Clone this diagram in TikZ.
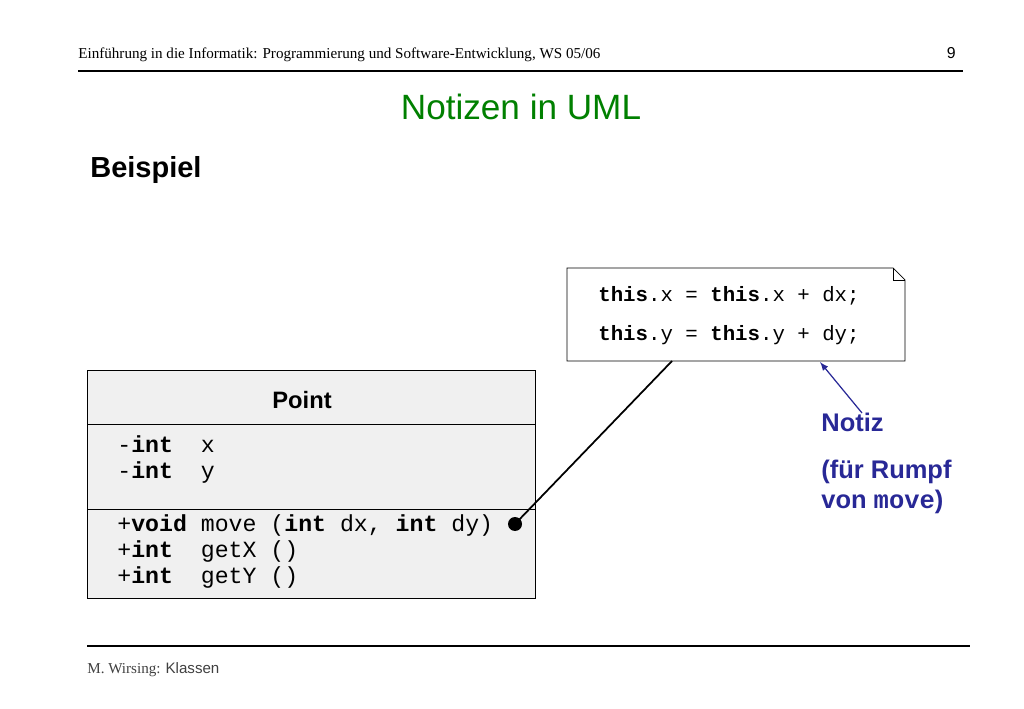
\documentclass[tikz,border=0pt]{standalone}
\usepackage{fontspec}
\setmainfont{Liberation Serif}
\setsansfont{Liberation Sans}
\setmonofont{Liberation Mono}
\usetikzlibrary{calc}
\definecolor{titlegreen}{RGB}{0,128,0}
\definecolor{noteblue}{RGB}{40,40,150}
\definecolor{classgray}{RGB}{240,240,240}
\tikzset{
  codeline/.style={anchor=base west,inner sep=0pt,font=\fontsize{11.8}{14}\ttfamily},
  memberline/.style={anchor=base west,inner sep=0pt,font=\fontsize{13.2}{15}\ttfamily},
  notetext/.style={anchor=base west,inner sep=0pt,text=noteblue,font=\fontsize{14.5}{17}\sffamily\bfseries},
}
\begin{document}
\begin{tikzpicture}[x=0.02cm,y=-0.02cm]
\useasboundingbox (0,0) rectangle (1024,709);
% header
\node[anchor=base west,inner sep=0pt,font=\fontsize{8.6}{10}\selectfont] (head) at (78,59)
  {Einführung in die Informatik: Programmierung und Software-Entwicklung, WS 05/06};
\node[anchor=base east,inner sep=0pt,font=\fontsize{9}{10}\sffamily] (page) at (956,59) {9};
\draw[line width=0.8pt] (78,71) -- (963,71);
\node[text=titlegreen,font=\fontsize{20}{23}\sffamily] (title) at (521,107) {Notizen in UML};
\node[anchor=base west,inner sep=0pt,font=\fontsize{16.5}{20}\sffamily\bfseries] (sub) at (90,178) {Beispiel};
% note
\draw[fill=white] (567,268) -- (893,268) -- (905,280) -- (905,361) -- (567,361) -- cycle;
\draw (893,268) -- (893,280) -- (905,280);
\coordinate (noteanchor) at (672,361);
\coordinate (notetip) at (820,362);
\node[codeline] (l1) at (598,302) {\textbf{this}.x = \textbf{this}.x + dx;};
\node[codeline] (l2) at (598,340) {\textbf{this}.y = \textbf{this}.y + dy;};
% class
\draw[fill=classgray] (87,370) rectangle (535,598);
\draw (87,424) -- (535,424);
\draw (87,509) -- (535,509);
\node[font=\fontsize{13.5}{16}\sffamily\bfseries] (cname) at (302,400) {Point};
\node[memberline] (a1) at (117,452) {-\textbf{int}\ \ x};
\node[memberline] (a2) at (117,478) {-\textbf{int}\ \ y};
\node[memberline] (m1) at (117,531) {+\textbf{void} move (\textbf{int} dx, \textbf{int} dy)};
\node[memberline] (m2) at (117,557) {+\textbf{int}\ \ getX ()};
\node[memberline] (m3) at (117,583) {+\textbf{int}\ \ getY ()};
\node[circle,fill=black,inner sep=0pt,minimum size=0.28cm] (dot) at (515,524) {};
\draw[line width=1pt] (dot.center) -- (noteanchor);
% label
\node[notetext] (n1) at (821,431) {Notiz};
\node[notetext] (n2) at (821,478) {(für Rumpf};
\node[notetext] (n3) at (821,508) {von \texttt{move})};
\coordinate (arrstart) at (862,413);
\draw[noteblue,-latex,line width=0.7pt] (arrstart) -- (notetip);
% footer
\draw[line width=0.8pt] (87,646) -- (970,646);
\node[anchor=base west,inner sep=0pt,text=black!75,font=\fontsize{8.6}{10}\selectfont] (foot) at (87,673)
  {M. Wirsing: \textsf{Klassen}};
\end{tikzpicture}
\end{document}
